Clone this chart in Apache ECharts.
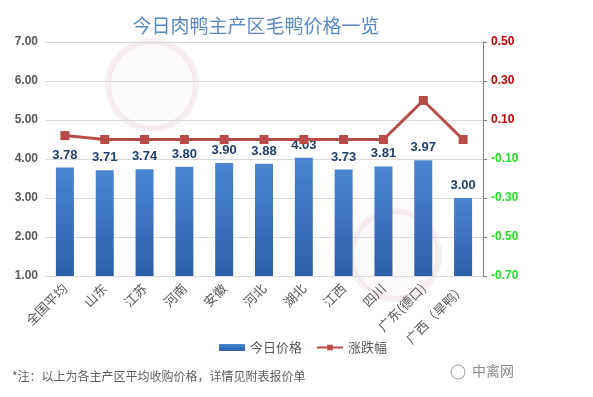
<!DOCTYPE html>
<html>
<head>
<meta charset="utf-8">
<script src="https://cdn.jsdelivr.net/npm/echarts@6/dist/echarts.min.js"></script>
<style>
  html, body { margin: 0; padding: 0; background: #fff; }
  #chart { width: 593px; height: 397px; }
</style>
</head>
<body>
<div id="chart"></div>
<script>
// 地区
const regions = ['全国平均', '山东', '江苏', '河南', '安徽', '河北', '湖北', '江西', '四川', '广东(德口)', '广西（旱鸭）'];
// 今日价格
const prices = [3.78, 3.71, 3.74, 3.80, 3.90, 3.88, 4.03, 3.73, 3.81, 3.97, 3.00];
// 涨跌幅
const changes = [0.02, 0.00, 0.00, 0.00, 0.00, 0.00, 0.00, 0.00, 0.00, 0.20, 0.00];
const leftTicks = [1, 7, 1];
const rightTicks = [-0.7, 0.5, 0.2];

const chart = echarts.init(document.getElementById('chart'));

const fontCN = '"Noto Sans CJK SC", "Noto Sans", sans-serif';

chart.setOption({
    backgroundColor: '#fff',
    animation: false,
    title: {
        text: '今日肉鸭主产区毛鸭价格一览',
        left: 251,
        top: 11,
        textAlign: 'center',
        textStyle: { color: '#5A8AC6', fontSize: 19, fontWeight: 'normal', fontFamily: fontCN }
    },
    grid: { left: 45, right: 110, top: 42, bottom: 121 },
    legend: {
        bottom: 38,
        left: 214,
        itemWidth: 26,
        itemHeight: 7,
        itemGap: 14,
        textStyle: { color: '#595959', fontSize: 13, fontFamily: fontCN },
        data: [
            { name: '今日价格', icon: 'rect' },
            { name: '涨跌幅' }
        ]
    },
    xAxis: {
        type: 'category',
        data: regions,
        axisLine: { show: false },
        axisTick: { show: false },
        axisLabel: {
            rotate: 45,
            interval: 0,
            margin: 10,
            color: '#595959',
            fontSize: 13,
            fontFamily: fontCN
        }
    },
    yAxis: [
        {
            type: 'value',
            min: leftTicks[0],
            max: leftTicks[1],
            interval: leftTicks[2],
            axisLine: { show: false },
            axisTick: { show: false },
            splitLine: { lineStyle: { color: '#D9D9D9', width: 1 } },
            axisLabel: {
                color: '#595959',
                fontSize: 12,
                fontWeight: 'bold',
                fontFamily: 'Liberation Sans, Arial',
                margin: 7,
                formatter: v => v.toFixed(2)
            }
        },
        {
            type: 'value',
            min: rightTicks[0],
            max: rightTicks[1],
            interval: rightTicks[2],
            position: 'right',
            axisLine: { show: true, lineStyle: { color: '#7F7F7F', width: 1 } },
            axisTick: { show: true, length: 4, lineStyle: { color: '#7F7F7F' } },
            splitLine: { show: false },
            axisLabel: {
                fontSize: 12,
                fontWeight: 'bold',
                fontFamily: 'Liberation Sans, Arial',
                margin: 8,
                formatter: v => {
                    let s = v.toFixed(2);
                    return v >= 0 ? '{pos|' + s + '}' : '{neg|' + s + '}';
                },
                rich: {
                    pos: { color: '#C00000', fontSize: 12, fontWeight: 'bold', fontFamily: 'Liberation Sans, Arial' },
                    neg: { color: '#22DD22', fontSize: 12, fontWeight: 'bold', fontFamily: 'Liberation Sans, Arial' }
                }
            }
        }
    ],
    graphic: [
        {
            type: 'circle', shape: { cx: 152, cy: 85, r: 44 }, z: -1,
            style: { fill: 'rgba(200,150,170,0.06)', stroke: 'rgba(190,120,150,0.12)', lineWidth: 6 }
        },
        {
            type: 'circle', shape: { cx: 395, cy: 255, r: 44 }, z: -1,
            style: { fill: 'rgba(200,150,170,0.06)', stroke: 'rgba(190,120,150,0.12)', lineWidth: 6 }
        },
        {
            type: 'text', left: 12, top: 370,
            style: { text: '*注：以上为各主产区平均收购价格，详情见附表报价单', fill: '#5E5E5E', fontSize: 12, fontFamily: '"Noto Sans CJK SC", serif' }
        },
        {
            type: 'circle', shape: { cx: 458, cy: 372, r: 7 },
            style: { fill: 'none', stroke: '#9A9A9A', lineWidth: 1 }
        },
        {
            type: 'text', left: 472, top: 364,
            style: { text: '中禽网', fill: '#8A8A8A', fontSize: 14, fontFamily: fontCN }
        }
    ],
    series: [
        {
            name: '今日价格',
            type: 'bar',
            yAxisIndex: 0,
            barWidth: 18,
            itemStyle: {
                color: new echarts.graphic.LinearGradient(0, 0, 0, 1, [
                    { offset: 0, color: '#4A86D1' },
                    { offset: 1, color: '#2C5FA9' }
                ])
            },
            label: {
                show: true,
                position: 'top',
                distance: 6,
                color: '#1F3F6E',
                fontSize: 13,
                fontWeight: 'bold',
                fontFamily: 'Liberation Sans, Arial',
                formatter: p => p.value.toFixed(2)
            },
            data: prices
        },
        {
            name: '涨跌幅',
            type: 'line',
            yAxisIndex: 1,
            symbol: 'rect',
            symbolSize: 9,
            lineStyle: { color: '#B84A48', width: 3 },
            itemStyle: { color: '#B84A48' },
            data: changes
        }
    ]
});
</script>
</body>
</html>
